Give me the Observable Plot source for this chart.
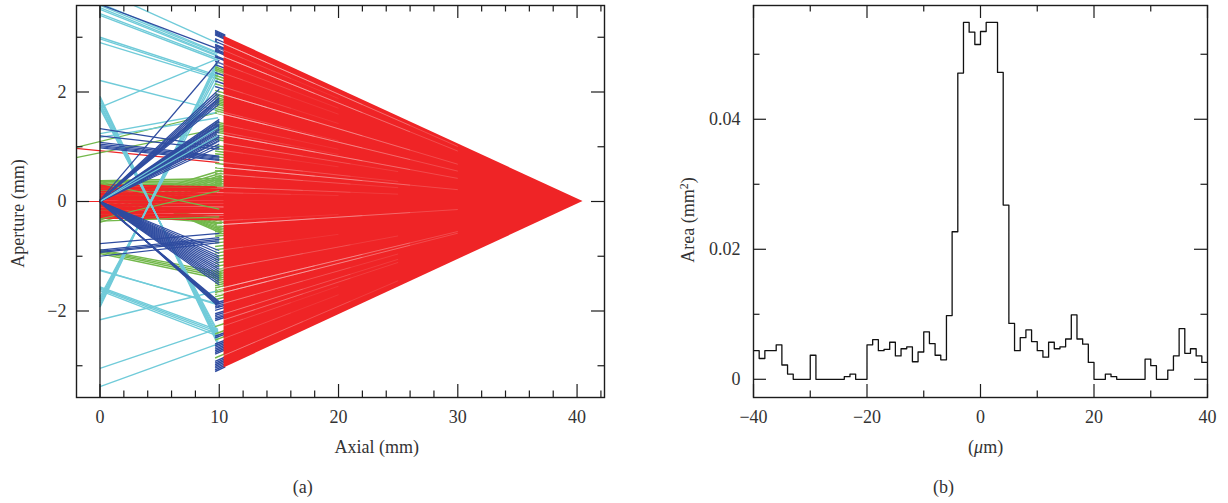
<!DOCTYPE html>
<html><head><meta charset="utf-8">
<script src="https://cdn.jsdelivr.net/npm/d3@7"></script>
<script src="https://cdn.jsdelivr.net/npm/@observablehq/plot@0.6"></script>
<style>
html,body{margin:0;padding:0;background:#fff}
#wrap{display:flex;width:1228px;height:503px;overflow:hidden}
svg{display:block}
</style></head><body><div id="wrap"></div>
<script>
// ---------- panel (a): rays as [aperture at start, aperture at end], z = 0 to 10 unless noted
const cyanBelow = [
 [3.86,2.89],[3.62,2.72],[3.58,2.70],[3.54,2.67],[3.51,2.65],[3.43,2.61],[3.40,2.58],
 [3.00,2.30],[2.97,2.27],[2.90,2.24],[2.21,1.66],[1.72,2.61],[1.24,1.63],[1.17,1.53],
 [1.92,-2.62],[1.88,-2.58],[1.85,-2.55],[1.80,-2.50],[1.77,-2.47],[1.72,-2.42],[1.70,-2.38],
 [-1.93,2.60],[-1.90,2.55],[-1.86,2.50],[-1.82,2.42],[-1.78,2.35],[-1.74,2.25],
 [-1.26,-1.87],[-1.25,-1.89],[-1.56,-2.35],[-1.58,-2.38],[-1.60,-2.42],[-1.63,-2.46],
 [-2.16,-1.63],[-3.05,-2.32],[-3.38,-2.60]];
const cyanAbove = [[0.00,1.35],[0.00,1.20]];
const blueRays = [
 [3.60,2.78],[0.02,2.58],[0.02,2.05],[0.02,2.00],[0.02,1.95],[0.02,1.90],[0.02,1.88],[0.02,1.85],[0.02,1.82],[0.02,1.78],
 [0.00,1.50],[0.00,1.47],[0.00,1.45],[0.00,1.42],[0.00,1.40],[0.00,1.38],[0.00,1.35],[0.00,1.32],[0.00,1.30],[0.00,1.28],
 [0.00,1.25],[0.00,1.22],[0.00,1.20],[0.00,1.18],[0.00,1.15],[0.00,1.12],[0.00,1.10],[0.00,1.05],[0.00,1.00],
 [1.33,0.99],[1.20,0.95],[1.08,0.83],[1.05,0.81],[1.02,0.79],[1.00,0.77],[0.98,0.75],
 [0.03,-1.93],[0.02,-1.91],[0.01,-1.89],[0.00,-1.87],[-0.01,-1.85],[-0.02,-1.83],
 [0.00,-0.90],[0.00,-0.95],[0.00,-1.00],[0.00,-1.04],[0.00,-1.08],[0.00,-1.12],[0.00,-1.16],[0.00,-1.20],
 [0.00,-1.24],[0.00,-1.28],[0.00,-1.32],[0.00,-1.36],[0.00,-1.40],[0.00,-1.44],[0.00,-1.48],[0.00,-1.52],
 [-0.77,-0.58],[-0.89,-0.66],[-0.91,-0.69],[-0.93,-0.72],[-1.00,-0.75]];
const greenRays = [
 [0.38,0.42],[0.36,0.38],[0.34,0.34],[0.32,0.30],[0.30,0.27],[0.27,0.25],[0.24,0.22],[0.20,0.20],
 [-0.10,0.57],[-0.14,0.52],[-0.18,0.48],[-0.22,0.45],[-0.26,0.42],[-0.30,0.38],[-0.34,0.35],[-0.38,0.32],
 [0.38,-0.58],[0.34,-0.55],[0.30,-0.52],[0.26,-0.49],[0.22,-0.46],[0.18,-0.43],[0.14,-0.40],[0.10,-0.36],
 [-0.05,-0.30],[-0.15,-0.35],[-0.22,-0.40],
 [-0.88,-1.30],[-0.90,-1.34],[-0.92,-1.38],[-0.95,-1.42]];
const redRays = [
 [0.30,0.26],[0.27,0.22],[0.25,0.20],[0.22,0.18],[0.18,0.15],[0.15,0.13],[0.12,0.12],[0.10,0.10],[0.08,0.08],[0.05,0.06],[0.03,0.03],[0.00,0.00],
 [-0.02,-0.02],[-0.05,-0.05],[-0.08,-0.08],[-0.10,-0.12],[-0.13,-0.14],[-0.15,-0.16],[-0.18,-0.18],[-0.20,-0.20],[-0.22,-0.24],[-0.25,-0.27],[-0.27,-0.30],[-0.30,-0.33]];
// a few green rays that stay visible on top of the red core
const greenOver = [[0.37,0.30],[-0.36,-0.28],[0.33,-0.14],[-0.32,0.20]];
// rays that enter from the left edge: [aperture at z=-2, aperture at z=10]
const redEntry = [[0.97,0.71],[0.00,0.00]];
const greenEntry = [[0.99,1.63],[0.80,1.33]];
// short lens segments, by aperture at z = 10
const stubBlue = [3.05,3.03,3.01,2.99,2.97,2.90,2.88,2.86,2.80,2.78,2.76,2.72,2.70,2.68,2.60,2.58,2.50,2.44,2.30,2.15,2.05,
 -1.81,-1.84,-1.87,-1.90,-1.94,-2.00,-2.03,-2.06,-2.09,-2.12,-2.40,-2.43,-2.54,-2.57,-2.60,-2.63,-2.66,-2.69,-2.72,
 -2.85,-2.88,-2.91,-2.94,-2.97,-3.00,-3.03];
const stubGreen = [2.40,2.37,2.34,2.25,2.20,2.10,1.98,1.93,1.90,1.86,1.83,1.80,1.77,1.74,1.70,1.66,1.62,1.58,1.42,1.39,1.36,1.33,1.30,1.27,1.24,1.20,1.15,1.11,
 1.00,0.95,0.90,0.85,0.80,0.75,0.68,0.60,
 0.55,0.50,0.45,0.40,0.36,0.32,0.28,-0.38,-0.42,-0.46,-0.50,-0.54,-0.58,
 -0.62,-0.68,-0.74,-0.80,-0.86,-0.92,-0.98,-1.04,-1.10,-1.16,-1.22,
 -1.26,-1.30,-1.34,-1.38,-1.42,-1.46,-1.50,-1.54,-1.58,-1.62,-1.66,-1.70,-1.75,-2.23,-2.36,-2.47,-2.79];
// the red focused cone
const coneStart = [{z:10.4,hi:3.02,lo:-3.04},{z:40.5,hi:0,lo:0}];
const hairStrong = [2.88,2.64,1.95,1.59,1.21,0.62,-0.42,-1.57,-1.66];
const hairMedium = [1.06,0.71,0.49,0.26,-1.22,-1.86,-2.05,-2.16,-2.81];
const hairWeak = [2.76,2.50,2.34,2.09,1.63,1.40,1.26,0.93,0.16,-0.35,-0.88,-2.27,-2.50];
const strongStops = [14,18,22,26,30];
const mediumStops = [13,17,21,25];
const weakStops = [12,16,20];
const axialMajor = [0,10,20,30,40];
const axialMinor = [2,4,6,8,12,14,16,18,22,24,26,28,32,34,36,38,42];
const apertureMajor = [-2,0,2];
const apertureMinor = [-3,-1,1,3];

// ---------- panel (b): 1 µm histogram bins from -40 to 40
const binStart = [-40,-39,-38,-37,-36,-35,-34,-33,-32,-31,-30,-29,-28,-27,-26,-25,-24,-23,-22,-21,-20,-19,-18,-17,-16,-15,-14,-13,-12,-11,-10,-9,-8,-7,-6,-5,-4,-3,-2,-1,
 0,1,2,3,4,5,6,7,8,9,10,11,12,13,14,15,16,17,18,19,20,21,22,23,24,25,26,27,28,29,30,31,32,33,34,35,36,37,38,39,40];
const areaValues = [.0044,.0032,.0044,.0044,.0053,.0022,.0008,0,0,0,.0037,0,0,0,0,0,.0004,.0008,0,0,
 .0053,.0061,.0044,.0046,.0057,.0036,.0047,.0050,.0027,.0042,.0073,.0055,.0037,.0030,.0098,.0227,.0471,.0549,.0534,.0515,
 .0535,.0549,.0549,.0472,.0268,.0086,.0044,.0064,.0076,.0058,.0044,.0034,.0057,.0047,.0050,.0062,.0099,.0062,.0054,.0026,
 0,0,.0008,.0004,0,0,0,0,0,.0031,.0021,0,0,.0014,.0036,.0078,.0040,.0047,.0036,.0026,.0026];
const offsetMajor = [-40,-20,0,20,40];
const offsetMinor = [-30,-10,10,30];
const areaMajor = [0,.02,.04];
const areaMinor = [.01,.03,.05];

const INK = "#1c1c1c", TEXT = "#333";
const RED = "#ef2426", GREEN = "#73b84b", BLUE = "#2f4ca0", CYAN = "#70cbd9";
const FONT = {fontFamily:"'Liberation Serif',serif",fontSize:"18px",color:TEXT,background:"#fff",overflow:"visible"};

const rays = (pairs, stroke, strokeWidth=1, z1=0, z2=10) => Plot.link(pairs,
  {x1:()=>z1, x2:()=>z2, y1:d=>d[0], y2:d=>d[1], stroke, strokeWidth, clip:true});
const coneY = (h,z) => h*(40.5-z)/(40.5-10.4);
const stubs = (list, stroke) => Plot.link(list,
  {x1:()=>9.65, x2:()=>10.5, y1:d=>coneY(d,9.65), y2:d=>coneY(d,10.5), stroke, strokeWidth:1.5, clip:true});
const hairs = (list, zEnd, opacity, w) => Plot.link(list,
  {x1:()=>9.8, x2:()=>zEnd, y1:d=>coneY(d,9.8), y2:d=>coneY(d,zEnd), stroke:"#fff", strokeWidth:w, strokeOpacity:opacity, clip:true});

const H = 392; // frame height
const ticks = (xMaj,xMin,yMaj,yMin,W) => {
  const LONG=13, SHORT=6.5, s={stroke:INK,strokeWidth:1.2};
  return [
    Plot.ruleX(xMaj,{insetTop:H-LONG,...s}), Plot.ruleX(xMaj,{insetBottom:H-LONG,...s}),
    Plot.ruleX(xMin,{insetTop:H-SHORT,...s}), Plot.ruleX(xMin,{insetBottom:H-SHORT,...s}),
    Plot.ruleY(yMaj,{insetRight:W-LONG,...s}), Plot.ruleY(yMaj,{insetLeft:W-LONG,...s}),
    Plot.ruleY(yMin,{insetRight:W-SHORT,...s}), Plot.ruleY(yMin,{insetLeft:W-SHORT,...s}),
    Plot.frame({stroke:INK,strokeWidth:1.4})
  ];
};
const bottomText = (label,x,dy) => Plot.text([label],{x:()=>x,frameAnchor:"bottom",dy,text:d=>d,fontSize:18,fill:TEXT,lineAnchor:"middle"});

const a = Plot.plot({
  width:614,height:503,marginTop:5,marginBottom:106,marginLeft:76,marginRight:10,style:FONT,
  x:{domain:[-1.97,42.3],label:null},y:{domain:[-3.58,3.58],label:null},
  marks:[
    rays(greenRays,GREEN,1.4,0,10.2),
    rays(redRays,RED,1.8,0,10.5),
    rays(redEntry,RED,1.1,-2,10),
    rays(greenOver,GREEN,1.2),
    rays(greenEntry,GREEN,1.2,-2,10),
    rays(cyanBelow,CYAN,1.35,0,9.9),
    stubs(stubBlue,BLUE),stubs(stubGreen,GREEN),
    rays(blueRays,BLUE,1.25),
    rays(cyanAbove,CYAN,1.1,0,9.9),
    Plot.area(coneStart,{x1:"z",y1:"lo",y2:"hi",fill:RED}),
    ...strongStops.map(z=>hairs(hairStrong,z,.2,.9)),
    hairs(hairStrong,10.4,.8,1.2),
    ...mediumStops.map(z=>hairs(hairMedium,z,.14,.8)),
    ...weakStops.map(z=>hairs(hairWeak,z,.1,.8)),
    Plot.ruleX([0],{stroke:INK,strokeWidth:1.3}),
    ...ticks(axialMajor,axialMinor,apertureMajor,apertureMinor,528),
    Plot.axisX(axialMajor,{anchor:"bottom",tickSize:0,tickPadding:13,label:null,fontSize:18,fill:TEXT}),
    Plot.axisY(apertureMajor,{anchor:"left",tickSize:0,tickPadding:10,label:null,fontSize:18,fill:TEXT,tickFormat:d=>d3.format("d")(d).replace("-","\u2212")}),
    bottomText("Axial (mm)",23.2,50),
    bottomText("(a)",17,90),
    Plot.text(["Aperture (mm)"],{frameAnchor:"left",dx:-58,y:()=>-0.22,text:d=>d,rotate:-90,fontSize:18,fill:TEXT,textAnchor:"middle"})
  ]
});
const b = Plot.plot({
  width:614,height:503,marginTop:5,marginBottom:106,marginLeft:139,marginRight:21,style:FONT,
  x:{domain:[-40,40],label:null},y:{domain:[-0.0028,0.0575],label:null},
  marks:[
    Plot.line(binStart,{x:d=>d,y:(d,i)=>areaValues[i],curve:"step-after",stroke:"#111",strokeWidth:1.3,clip:true}),
    ...ticks(offsetMajor,offsetMinor,areaMajor,areaMinor,454),
    Plot.axisX(offsetMajor,{anchor:"bottom",tickSize:0,tickPadding:13,label:null,fontSize:18,fill:TEXT}),
    Plot.axisY(areaMajor,{anchor:"left",tickSize:0,tickPadding:13,label:null,fontSize:18,fill:TEXT,tickFormat:d=>d===0?"0":d3.format(".2f")(d)}),
    bottomText("(\u03bcm)",0.9,50),
    bottomText("(b)",-6.5,90),
    Plot.text(["Area (mm2)"],{frameAnchor:"left",dx:-65,y:()=>0.0245,text:d=>d,rotate:-90,fontSize:18,fill:TEXT,textAnchor:"middle"})
  ]
});
const wrap=document.getElementById("wrap");
wrap.append(a,b);
const richText = (svg,match,build) => d3.select(svg).selectAll("text")
  .filter(function(){return this.textContent===match;})
  .each(function(){
    const node=d3.select(this), inner=node.select("tspan"), host=inner.empty()?node:inner;
    host.text(""); build(host);
  });
richText(b,"(\u03bcm)",h=>{h.append("tspan").text("(");h.append("tspan").attr("font-style","italic").text("\u03bc");h.append("tspan").text("m)");});
richText(b,"Area (mm2)",h=>{h.append("tspan").text("Area (mm");h.append("tspan").attr("font-size",12).attr("dy",-6).text("2");h.append("tspan").attr("dy",6).text(")");});
</script></body></html>
